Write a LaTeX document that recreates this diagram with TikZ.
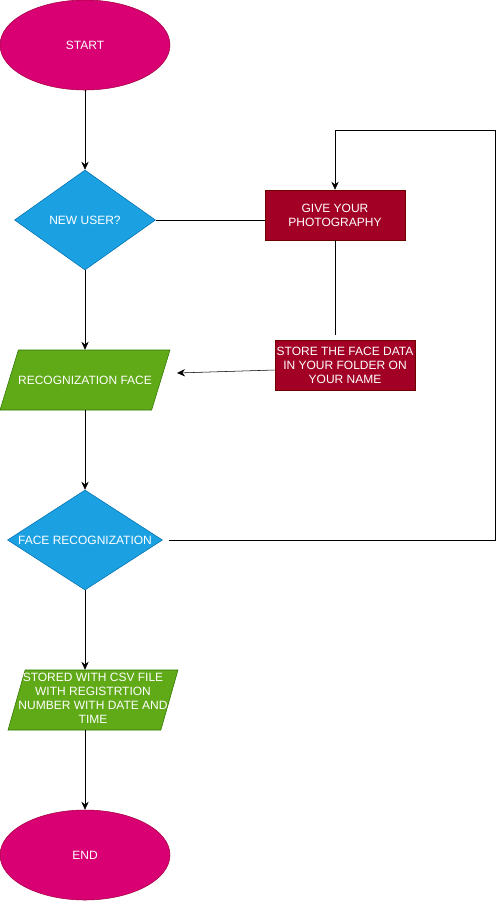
\documentclass[tikz,border=0pt]{standalone}
\usepackage{fontspec}
\setmainfont{Liberation Sans}
\usetikzlibrary{shapes.geometric,arrows.meta}
\definecolor{pinkfill}{HTML}{D80073}
\definecolor{pinkline}{HTML}{A50040}
\definecolor{bluefill}{HTML}{1BA1E2}
\definecolor{blueline}{HTML}{006EAF}
\definecolor{greenfill}{HTML}{60A917}
\definecolor{greenline}{HTML}{2D7600}
\definecolor{redfill}{HTML}{A20025}
\definecolor{redline}{HTML}{6F0000}
\begin{document}
\begin{tikzpicture}[x=0.75pt,y=-0.75pt,
    every node/.style={text=white,font=\fontsize{9}{10.5}\selectfont,inner sep=0pt},
    terminal/.style={ellipse,fill=pinkfill,draw=pinkline,minimum width=127.5pt,minimum height=67.5pt},
    decision/.style={diamond,fill=bluefill,draw=blueline,minimum height=75pt},
    io/.style={trapezium,trapezium left angle=73,trapezium right angle=107,trapezium stretches body,
        fill=greenfill,draw=greenline,minimum width=127.5pt,minimum height=45pt},
    process/.style={rectangle,fill=redfill,draw=redline,minimum width=105pt,minimum height=37.5pt,align=center},
    flow/.style={-{Stealth[length=6pt,width=5.5pt,inset=2pt]},thin},
    link/.style={-,thin}]
                \useasboundingbox (0,0) rectangle (497,901);
                \node[terminal] (start) at (85,45) {START};
                \node[decision,minimum width=105.75pt] (newuser) at (85,220) {\makebox[0pt]{NEW USER?}};
                \node[process] (give) at (335,215) {GIVE YOUR\\PHOTOGRAPHY};
                \node[process] (store) at (345,365) {STORE THE FACE DATA\\IN YOUR FOLDER ON\\YOUR NAME};
                \node[io] (recog) at (85,380) {\makebox[0pt]{\rule[-19.25pt]{0pt}{45pt}RECOGNIZATION FACE}};
                \node[decision,minimum width=116.25pt] (face) at (85,540) {\makebox[0pt]{FACE RECOGNIZATION}};
                \node[io] (stored) at (93,700) {\makebox[0pt]{\begin{tabular}{@{}c@{}}STORED WITH CSV FILE\\WITH REGISTRTION\\NUMBER WITH DATE AND\\TIME\end{tabular}}};
                \node[terminal] (end) at (85,855) {END};
                \coordinate (loop) at (495,130);
                \coordinate (gap) at (335,335);
                \coordinate (recogin) at (177,373);
                % main flow
                \draw[flow] (start) -- (newuser);
                \draw[flow] (newuser) -- (recog);
                \draw[flow] (recog) -- (face);
                \draw[flow] (face.south) -- (face.south |- stored.north);
                \draw[flow] (end.north |- stored.south) -- (end);
                % new user branch
                \draw[link] (newuser.east) -- (newuser.east -| give.west);
                \draw[link] (give.south) -- (gap);
                \draw[flow] ([yshift=-3.75pt]store.west) -- (recogin);
                \draw[flow,shorten <=5pt] (face.east) -| (loop) -| (give.north);
\end{tikzpicture}
\end{document}
